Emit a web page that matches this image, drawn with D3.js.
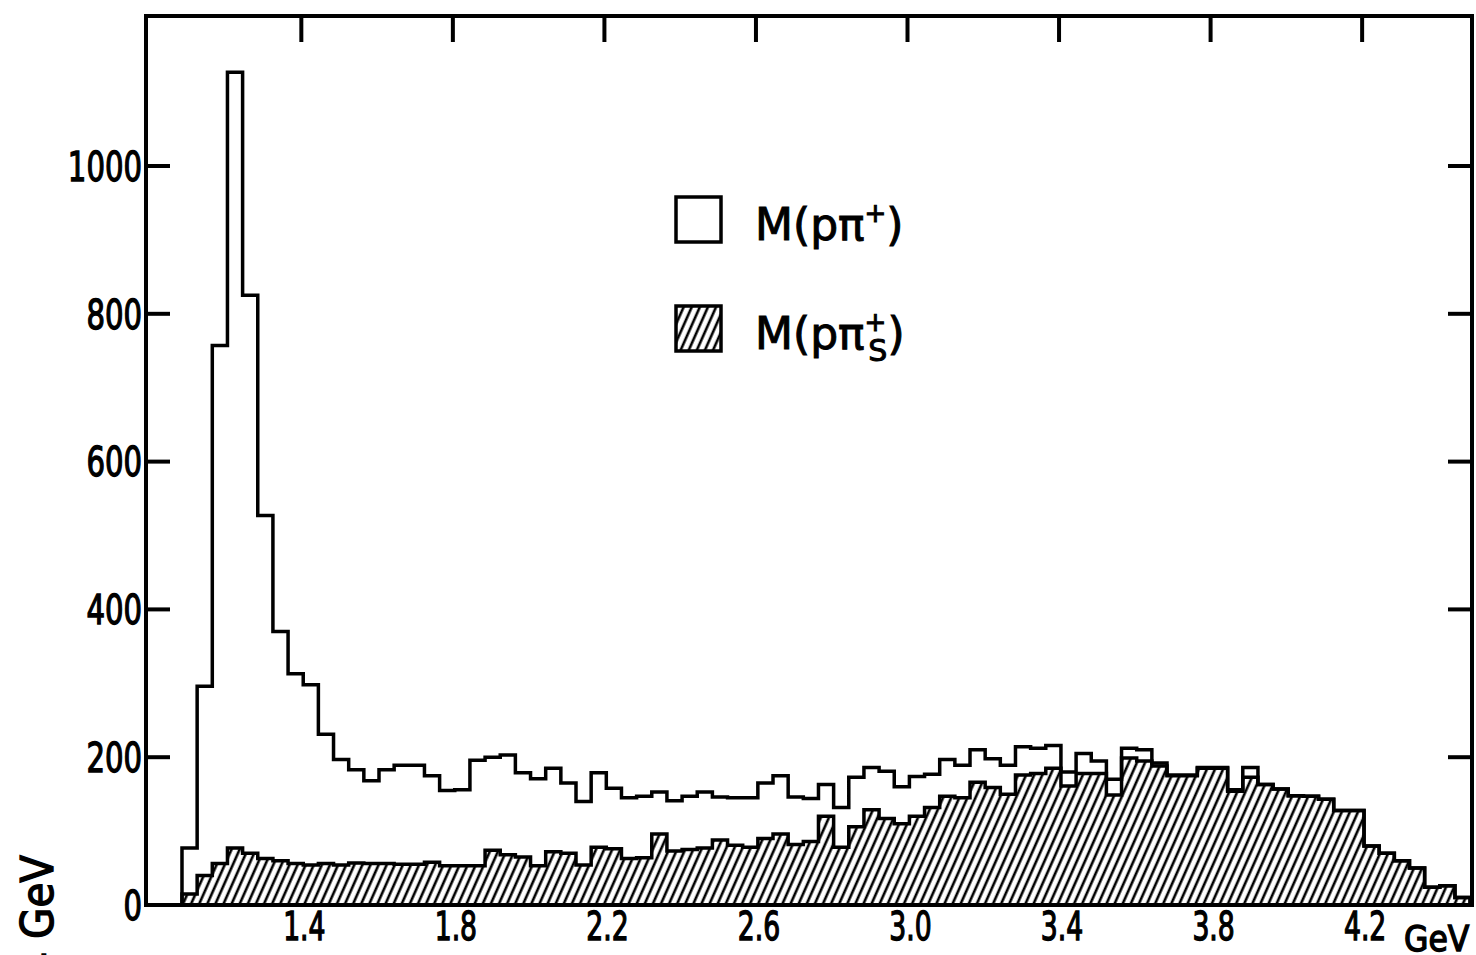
<!DOCTYPE html>
<html>
<head>
<meta charset="utf-8">
<title>M(p pi+) mass spectrum</title>
<script src="https://d3js.org/d3.v7.min.js"></script>
<style>
body { margin: 0; background: #fff; }
svg { display: block; background: #fff; }
text { font-family: "DejaVu Sans Condensed", "DejaVu Sans", sans-serif; fill: #000; }
.frame { fill: none; stroke: #000; stroke-width: 4; }
.tick { stroke: #000; stroke-width: 4; }
.open { fill: none; stroke: #000; stroke-width: 3.5; }
.shadeLine { fill: none; stroke: #000; stroke-width: 3.5; }
.lab { stroke: #000; stroke-width: 1.3; }
.legend text { font-family: "DejaVu Sans", sans-serif; stroke: #000; stroke-width: 1; }
</style>
</head>
<body>
<script>
var width = 1476, height = 955;

// bin layout (GeV)
var binStart = 1.085, binWidth = 0.04;

// M(p pi+) : counts per 0.04 GeV bin (open histogram)
var openCounts = [
  77, 296, 757, 1127, 825, 527, 370, 313, 298, 231,
  197, 183, 168, 183, 189, 189, 175, 155, 156, 196,
  200, 203, 179, 171, 185, 165, 140, 179, 158, 145,
  147, 153, 141, 147, 153, 146, 145, 145, 165, 175,
  146, 144, 163, 132, 173, 186, 181, 160, 174, 177,
  197, 189, 210, 198, 189, 214, 212, 216, 180, 205,
  195, 170, 212, 210, 192, 176, 176, 186, 186, 156,
  186, 163, 157, 148, 147, 143, 128, 128, 80, 70,
  60, 50, 24, 26, 10
];

// M(p pi+_s) : counts per 0.04 GeV bin (hatched histogram)
var hatchCounts = [
  15, 40, 56, 77, 70, 63, 60, 56, 54, 56,
  54, 57, 56, 56, 55, 55, 58, 53, 53, 53,
  74, 68, 65, 53, 72, 70, 54, 78, 76, 63,
  64, 96, 73, 75, 77, 88, 81, 78, 90, 96,
  82, 86, 120, 78, 106, 129, 117, 110, 120, 132,
  147, 145, 166, 159, 150, 176, 178, 185, 161, 178,
  178, 149, 199, 195, 188, 175, 175, 185, 185, 154,
  173, 163, 157, 148, 147, 143, 128, 128, 80, 70,
  60, 50, 24, 26, 10
];

var xTicks = [1.4, 1.8, 2.2, 2.6, 3.0, 3.4, 3.8, 4.2];
var xTickLabels = ["1.4", "1.8", "2.2", "2.6", "3.0", "3.4", "3.8", "4.2"];
var yTicks = [0, 200, 400, 600, 800, 1000];

var svg = d3.select("body").append("svg")
    .attr("width", width)
    .attr("height", height);

// scales (frame edges)
var x = d3.scaleLinear().domain([0.99, 4.49]).range([146, 1472]);
var y = d3.scaleLinear().domain([0, 1203]).range([905, 16]);

// hatch pattern
var defs = svg.append("defs");
var pat = defs.append("pattern")
    .attr("id", "hatch")
    .attr("patternUnits", "userSpaceOnUse")
    .attr("width", 7.4)
    .attr("height", 20)
    .attr("patternTransform", "rotate(24)");
pat.append("rect").attr("width", 7.4).attr("height", 20).attr("fill", "#fff");
pat.append("line")
    .attr("x1", 2).attr("x2", 2).attr("y1", -2).attr("y2", 22)
    .attr("stroke", "#000").attr("stroke-width", 2.6);

// turn counts into step points
function steps(counts) {
  var pts = counts.map(function(c, i) { return [binStart + i * binWidth, c]; });
  pts.push([binStart + counts.length * binWidth, counts[counts.length - 1]]);
  return pts;
}

var area = d3.area()
    .curve(d3.curveStepAfter)
    .x(function(d) { return x(d[0]); })
    .y0(y(0))
    .y1(function(d) { return y(d[1]); });

var line = d3.line()
    .curve(d3.curveStepAfter)
    .x(function(d) { return x(d[0]); })
    .y(function(d) { return y(d[1]); });

function outline(counts) {
  var pts = steps(counts);
  var last = pts[pts.length - 1][0];
  return [[binStart, 0]].concat(pts, [[last, 0]]);
}

// hatched histogram
svg.append("path")
    .attr("d", area(steps(hatchCounts)))
    .attr("fill", "url(#hatch)");
svg.append("path")
    .attr("class", "shadeLine")
    .attr("d", line(outline(hatchCounts)));

// open histogram
svg.append("path")
    .attr("class", "open")
    .attr("d", line(outline(openCounts)));

// frame
svg.append("rect")
    .attr("class", "frame")
    .attr("x", x(0.99)).attr("y", y(1203))
    .attr("width", x(4.49) - x(0.99))
    .attr("height", y(0) - y(1203));

// top ticks
svg.selectAll("line.xtop")
    .data(xTicks)
  .enter().append("line")
    .attr("class", "tick")
    .attr("x1", function(d) { return x(d); })
    .attr("x2", function(d) { return x(d); })
    .attr("y1", y(1203))
    .attr("y2", y(1203) + 26);

// left and right ticks
var yInner = yTicks.filter(function(d) { return d > 0; });
svg.selectAll("line.yleft")
    .data(yInner)
  .enter().append("line")
    .attr("class", "tick")
    .attr("x1", x(0.99)).attr("x2", x(0.99) + 24)
    .attr("y1", function(d) { return y(d); })
    .attr("y2", function(d) { return y(d); });
svg.selectAll("line.yright")
    .data(yInner)
  .enter().append("line")
    .attr("class", "tick")
    .attr("x1", x(4.49) - 24).attr("x2", x(4.49))
    .attr("y1", function(d) { return y(d); })
    .attr("y2", function(d) { return y(d); });

// y tick labels (narrowed to look like the condensed original lettering)
svg.selectAll("text.ylab")
    .data(yTicks)
  .enter().append("text")
    .attr("class", "lab")
    .attr("transform", function(d) { return "translate(142," + y(d) + ") scale(0.79,1)"; })
    .attr("dy", "0.36em")
    .attr("text-anchor", "end")
    .attr("font-size", 41)
    .text(function(d) { return d; });

// x tick labels
svg.selectAll("text.xlab")
    .data(xTicks)
  .enter().append("text")
    .attr("class", "lab")
    .attr("transform", function(d) { return "translate(" + (x(d) + 3) + ",940) scale(0.76,1)"; })
    .attr("text-anchor", "middle")
    .attr("font-size", 39)
    .text(function(d, i) { return xTickLabels[i]; });

svg.append("text")
    .attr("class", "lab")
    .attr("x", 1404).attr("y", 951)
    .attr("font-size", 35)
    .text("GeV");

// cut-off vertical axis title
svg.append("text")
    .attr("class", "lab")
    .attr("transform", "translate(53,855) rotate(-90)")
    .attr("text-anchor", "end")
    .attr("font-family", "DejaVu Sans, sans-serif")
    .attr("font-size", 45)
    .text("events / 0.04 GeV");

// legend
var lg = svg.append("g").attr("class", "legend");
lg.append("rect")
    .attr("x", 676).attr("y", 197).attr("width", 45).attr("height", 45)
    .attr("fill", "none").attr("stroke", "#000").attr("stroke-width", 3.5);
lg.append("rect")
    .attr("x", 676).attr("y", 306).attr("width", 45).attr("height", 45)
    .attr("fill", "url(#hatch)").attr("stroke", "#000").attr("stroke-width", 3.5);

var t1 = lg.append("text").attr("x", 755).attr("y", 240).attr("font-size", 44);
t1.append("tspan").text("M(pπ");
t1.append("tspan").attr("font-size", 26).attr("dy", -18).text("+");
t1.append("tspan").attr("dy", 18).text(")");

var t2 = lg.append("text").attr("x", 755).attr("y", 349).attr("font-size", 44);
t2.append("tspan").text("M(pπ");
t2.append("tspan").attr("font-size", 26).attr("dy", -18).text("+");
t2.append("tspan").attr("font-size", 30).attr("dx", -18).attr("dy", 30).text("S");
t2.append("tspan").attr("dy", -12).text(")");
</script>
</body>
</html>
